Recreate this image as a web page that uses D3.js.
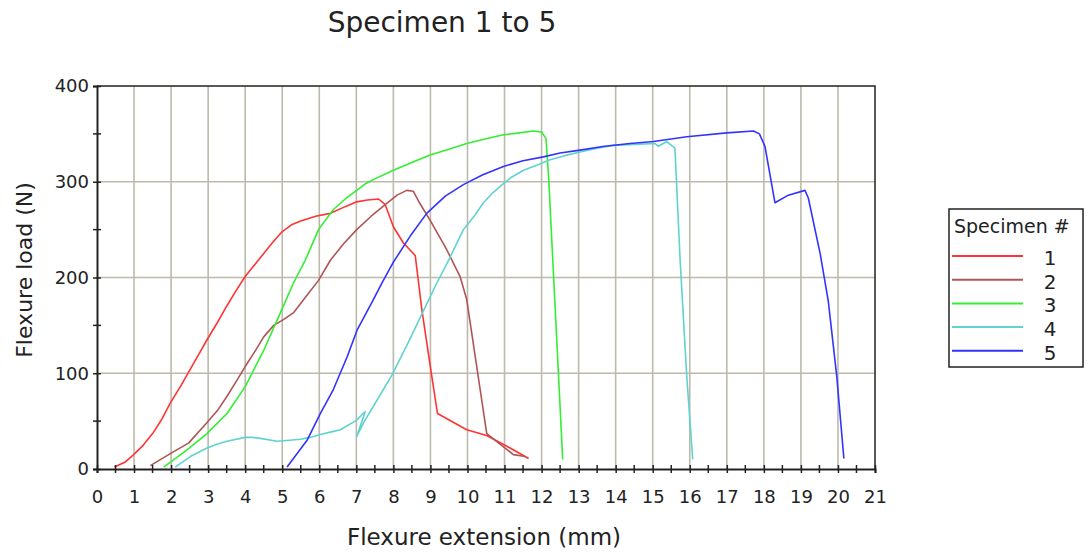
<!DOCTYPE html>
<html>
<head>
<meta charset="utf-8">
<script src="https://cdn.jsdelivr.net/npm/d3@7"></script>
<style>
  body { margin: 0; background: #fff; }
  text { font-family: "DejaVu Sans", Verdana, sans-serif; fill: #222; }
</style>
</head>
<body>
<div id="chart"></div>
<script>
// Specimen curves: extension (mm) and load (N)
const spec1X = [0.47, 0.75, 0.99, 1.25, 1.5, 1.75, 1.98, 2.25, 2.5, 2.75, 2.97, 3.25, 3.5, 3.75, 4.0, 4.25, 4.5, 4.75, 5.0, 5.25, 5.5, 5.9, 6.3, 6.7, 7.01, 7.3, 7.6, 7.78, 8.0, 8.27, 8.59, 8.77, 9.04, 9.19, 9.98, 10.52, 11.15, 11.65];
const spec1Y = [2, 7, 15, 25, 37, 52, 69, 86, 103, 120, 135, 153, 170, 186, 201, 213, 225, 237, 248, 255, 259, 264, 267, 274, 279, 281, 282, 276, 253, 236, 223, 166, 96, 58, 41, 35, 22, 11];

const spec2X = [1.44, 1.98, 2.2, 2.47, 2.96, 3.25, 3.51, 3.75, 4.0, 4.25, 4.5, 4.77, 5.03, 5.3, 5.6, 5.98, 6.3, 6.65, 7.01, 7.4, 7.78, 8.1, 8.36, 8.54, 8.72, 8.99, 9.44, 9.8, 9.98, 10.52, 11.24, 11.56];
const spec2Y = [3.5, 16, 21, 27, 48, 61, 76, 91, 107, 122, 138, 150, 156, 163, 178, 197, 218, 235, 250, 264, 276, 286, 291, 290, 277, 260, 229, 201, 177, 37, 15, 13];

const spec3X = [1.8, 2.43, 2.97, 3.51, 4.0, 4.5, 4.95, 5.3, 5.62, 5.98, 6.38, 6.7, 7.01, 7.25, 7.5, 8.0, 8.5, 8.99, 9.5, 9.98, 10.5, 10.97, 11.4, 11.78, 12.0, 12.12, 12.19, 12.37, 12.57];
const spec3Y = [2, 20, 37, 58, 86, 124, 163, 194, 218, 250, 271, 282, 291, 298, 303, 312, 320, 328, 334, 340, 345, 349, 351, 353, 352, 345, 305, 166, 10];

const spec4X = [2.11, 2.52, 2.97, 3.25, 3.51, 4.0, 4.2, 4.41, 4.86, 5.2, 5.49, 5.75, 6.03, 6.3, 6.57, 7.01, 7.24, 7.01, 7.19, 7.73, 7.96, 8.4, 8.82, 9.17, 9.49, 9.89, 10.2, 10.43, 10.7, 10.97, 11.2, 11.51, 11.92, 12.23, 12.6, 13.04, 13.5, 13.94, 14.5, 15.06, 15.15, 15.38, 15.6, 15.74, 15.92, 16.08];
const spec4Y = [2, 13, 22, 26, 29, 33, 33, 32, 29, 30, 31, 33, 36, 38.5, 41, 51, 60, 34, 48, 83, 98, 132, 166, 194, 218, 250, 265, 278, 289, 298, 305, 312, 318, 323, 327, 331, 335, 338, 339, 340, 337, 342, 335, 218, 96, 10];

const spec5X = [5.13, 5.67, 6.03, 6.38, 6.75, 7.02, 7.46, 7.7, 8.0, 8.45, 8.9, 9.4, 9.89, 10.4, 10.97, 11.5, 12.05, 12.5, 13.04, 13.7, 14.39, 15.02, 15.92, 17.0, 17.72, 17.88, 18.03, 18.3, 18.66, 19.11, 19.2, 19.52, 19.74, 19.97, 20.16];
const spec5Y = [2, 30, 58, 83, 117, 145, 177, 195, 216, 243, 267, 285, 297, 307, 316, 322, 326, 330, 333, 337, 340, 342, 347, 351, 353, 350, 337, 278, 286, 291, 283, 225, 175, 96, 11];

const specNames = ["1", "2", "3", "4", "5"];
const specColors = ["#ff3333", "#b05555", "#33ee33", "#5fd3d0", "#3333ff"];
const xTicks = d3.range(0, 22, 1);
const yTicks = [0, 100, 200, 300, 400];

const series = [
  { name: specNames[0], xs: spec1X, ys: spec1Y },
  { name: specNames[1], xs: spec2X, ys: spec2Y },
  { name: specNames[2], xs: spec3X, ys: spec3Y },
  { name: specNames[3], xs: spec4X, ys: spec4Y },
  { name: specNames[4], xs: spec5X, ys: spec5Y }
];

// Plot area
const margin = { top: 86, right: 215, bottom: 83, left: 97 };
const W = 1090, H = 552;
const width = W - margin.left - margin.right;
const height = H - margin.top - margin.bottom;

const svg = d3.select("#chart")
  .append("svg")
  .attr("width", W)
  .attr("height", H);

const g = svg.append("g")
  .attr("transform", `translate(${margin.left},${margin.top})`);

const x = d3.scaleLinear().domain([0, 21]).range([0, width]);
const y = d3.scaleLinear().domain([0, 400]).range([height, 0]);

// Grid lines
g.append("g")
  .selectAll("line")
  .data(xTicks.slice(1, -1))
  .enter().append("line")
  .attr("x1", d => x(d)).attr("x2", d => x(d))
  .attr("y1", 0).attr("y2", height)
  .attr("stroke", "#bdb9ab").attr("stroke-width", 1.6);

g.append("g")
  .selectAll("line")
  .data(yTicks.slice(1, -1))
  .enter().append("line")
  .attr("x1", 0).attr("x2", width)
  .attr("y1", d => y(d)).attr("y2", d => y(d))
  .attr("stroke", "#bdb9ab").attr("stroke-width", 1.6);

// Frame (top and right)
g.append("path")
  .attr("d", `M0,0H${width}V${height}`)
  .attr("fill", "none")
  .attr("stroke", "#222")
  .attr("stroke-width", 1.5);

// Curves
const line = d3.line()
  .x(d => x(d[0]))
  .y(d => y(d[1]));

series.forEach(function (s, i) {
  const pts = s.xs.map((v, j) => [v, s.ys[j]]);
  g.append("path")
    .datum(pts)
    .attr("fill", "none")
    .attr("stroke", specColors[i])
    .attr("stroke-width", 1.6)
    .attr("stroke-linejoin", "round")
    .attr("d", line);
});

// X axis
const xAxis = g.append("g")
  .attr("transform", `translate(0,${height})`)
  .call(d3.axisBottom(x).tickValues(xTicks).tickFormat(d3.format("d")).tickSize(4).tickPadding(17));
xAxis.select(".domain").attr("stroke", "#222").attr("stroke-width", 2);
xAxis.selectAll(".tick line").attr("y1", -4).attr("stroke", "#222").attr("stroke-width", 1.5);
xAxis.selectAll(".tick text").attr("font-size", 18).attr("font-family", "DejaVu Sans, sans-serif").attr("fill", "#222");

g.append("g")
  .selectAll("line")
  .data(d3.range(0.5, 21, 1))
  .enter().append("line")
  .attr("x1", d => x(d)).attr("x2", d => x(d))
  .attr("y1", height - 4).attr("y2", height + 4)
  .attr("stroke", "#222").attr("stroke-width", 1.5);

// Y axis
const yAxis = g.append("g")
  .call(d3.axisLeft(y).tickValues(yTicks).tickSize(4).tickPadding(4));
yAxis.select(".domain").attr("stroke", "#222").attr("stroke-width", 2);
yAxis.selectAll(".tick line").attr("x1", 4).attr("x2", -4).attr("stroke", "#222").attr("stroke-width", 1.5);
yAxis.selectAll(".tick text").attr("font-size", 18).attr("font-family", "DejaVu Sans, sans-serif").attr("fill", "#222");

g.append("g")
  .selectAll("line")
  .data([50, 150, 250, 350])
  .enter().append("line")
  .attr("x1", -4).attr("x2", 4)
  .attr("y1", d => y(d)).attr("y2", d => y(d))
  .attr("stroke", "#222").attr("stroke-width", 1.5);

// Titles
svg.append("text")
  .attr("x", 442)
  .attr("y", 32)
  .attr("text-anchor", "middle")
  .attr("font-size", 28)
  .text("Specimen 1 to 5");

svg.append("text")
  .attr("x", 484)
  .attr("y", 545)
  .attr("text-anchor", "middle")
  .attr("font-size", 23)
  .text("Flexure extension (mm)");

svg.append("text")
  .attr("transform", "rotate(-90)")
  .attr("x", -270)
  .attr("y", 32)
  .attr("text-anchor", "middle")
  .attr("font-size", 22)
  .text("Flexure load (N)");

// Legend
const legend = svg.append("g").attr("transform", "translate(949,209)");
legend.append("rect")
  .attr("width", 134).attr("height", 158)
  .attr("fill", "#fff").attr("stroke", "#222").attr("stroke-width", 1.5);
legend.append("text")
  .attr("x", 5).attr("y", 24)
  .attr("font-size", 19)
  .text("Specimen #");
const items = legend.selectAll(".item")
  .data(specNames)
  .enter().append("g")
  .attr("class", "item")
  .attr("transform", (d, i) => `translate(0,${47 + i * 23.7})`);
items.append("line")
  .attr("x1", 3).attr("x2", 74)
  .attr("stroke", (d, i) => specColors[i])
  .attr("stroke-width", 2);
items.append("text")
  .attr("x", 101).attr("y", 9)
  .attr("text-anchor", "middle")
  .attr("font-size", 20)
  .text(d => d);
</script>
</body>
</html>
